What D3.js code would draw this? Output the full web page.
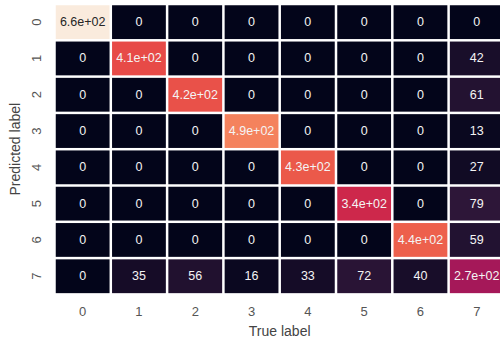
<!DOCTYPE html>
<html>
<head>
<meta charset="utf-8">
<script src="https://cdn.jsdelivr.net/npm/d3@7"></script>
<style>
  html, body { margin: 0; padding: 0; background: #fff; }
  svg { display: block; }
</style>
</head>
<body>
<svg id="chart" width="500" height="339"></svg>
<script>
// Confusion matrix: rows = predicted label, columns = true label
const trueLabels = ["0", "1", "2", "3", "4", "5", "6", "7"];
const predictedLabels = ["0", "1", "2", "3", "4", "5", "6", "7"];
const counts = [
  [660, 0, 0, 0, 0, 0, 0, 0],
  [0, 410, 0, 0, 0, 0, 0, 42],
  [0, 0, 420, 0, 0, 0, 0, 61],
  [0, 0, 0, 490, 0, 0, 0, 13],
  [0, 0, 0, 0, 430, 0, 0, 27],
  [0, 0, 0, 0, 0, 340, 0, 79],
  [0, 0, 0, 0, 0, 0, 440, 59],
  [0, 35, 56, 16, 33, 72, 40, 270]
];

// "rocket" colormap anchor colours
const rocketStops = ["#03051a", "#35193e", "#701f57", "#ad1759", "#e13342", "#f37651", "#f6b48f", "#faebdd"];
const rocketPos = [0, 1/7, 2/7, 3/7, 4/7, 5/7, 6/7, 1];

const svg = d3.select("#chart");
const gridLeft = 54.5, gridTop = 4, cellW = 56.3, cellH = 36.3;

const x = d3.scaleBand().domain(trueLabels).range([gridLeft, gridLeft + cellW * trueLabels.length]);
const y = d3.scaleBand().domain(predictedLabels).range([gridTop, gridTop + cellH * predictedLabels.length]);

const vmax = d3.max(counts.flat());
const norm = d3.scaleLinear().domain([0, vmax]).range([0, 1]);
const rocket = d3.scaleLinear().domain(rocketPos).range(rocketStops).interpolate(d3.interpolateRgb);
const color = v => rocket(norm(v));

// matplotlib-style '.2g' annotation
function fmt2g(v) {
  if (v === 0) return "0";
  const e = Math.floor(Math.log10(Math.abs(v)));
  if (e >= 2) {
    const m = v / Math.pow(10, e);
    return m.toFixed(1) + "e+" + String(e).padStart(2, "0");
  }
  return String(+v.toPrecision(2));
}

const cells = [];
counts.forEach((row, i) => row.forEach((v, j) => cells.push({ r: predictedLabels[i], c: trueLabels[j], v })));

const gap = 1.25;
svg.append("g").selectAll("rect").data(cells).join("rect")
  .attr("x", d => x(d.c) + gap)
  .attr("y", d => y(d.r) + gap)
  .attr("width", x.bandwidth() - 2 * gap)
  .attr("height", y.bandwidth() - 2 * gap)
  .attr("fill", d => color(d.v));

svg.append("g").selectAll("text").data(cells).join("text")
  .attr("x", d => x(d.c) + x.bandwidth() / 2)
  .attr("y", d => y(d.r) + y.bandwidth() / 2)
  .attr("text-anchor", "middle")
  .attr("dominant-baseline", "central")
  .attr("font-family", "Liberation Sans, Arial, sans-serif")
  .attr("font-size", 12.5)
  .attr("fill", d => d3.hsl(color(d.v)).l > 0.75 ? "#262626" : "#f4f4f4")
  .text(d => fmt2g(d.v));

// Axes (tick labels only, no domain line or tick marks)
const xAxis = svg.append("g")
  .attr("transform", `translate(0,${gridTop + cellH * predictedLabels.length})`)
  .call(d3.axisBottom(x).tickSize(0).tickPadding(12));
const yAxis = svg.append("g")
  .attr("transform", `translate(${gridLeft},0)`)
  .call(d3.axisLeft(y).tickSize(0).tickPadding(12));
[xAxis, yAxis].forEach(g => {
  g.select(".domain").remove();
  g.selectAll("text")
    .attr("font-family", "Liberation Sans, Arial, sans-serif")
    .attr("font-size", 13)
    .attr("fill", "#555");
});
yAxis.selectAll(".tick text")
  .attr("text-anchor", "middle")
  .attr("dy", null)
  .attr("x", null)
  .attr("transform", "translate(-18,0) rotate(-90)")
  .attr("dominant-baseline", "central");

svg.append("text")
  .attr("x", gridLeft + cellW * trueLabels.length / 2)
  .attr("y", 336)
  .attr("text-anchor", "middle")
  .attr("font-family", "Liberation Sans, Arial, sans-serif")
  .attr("font-size", 14)
  .attr("fill", "#444")
  .text("True label");

svg.append("text")
  .attr("transform", `translate(20,${gridTop + cellH * predictedLabels.length / 2}) rotate(-90)`)
  .attr("text-anchor", "middle")
  .attr("font-family", "Liberation Sans, Arial, sans-serif")
  .attr("font-size", 14)
  .attr("fill", "#444")
  .text("Predicted label");
</script>
</body>
</html>
